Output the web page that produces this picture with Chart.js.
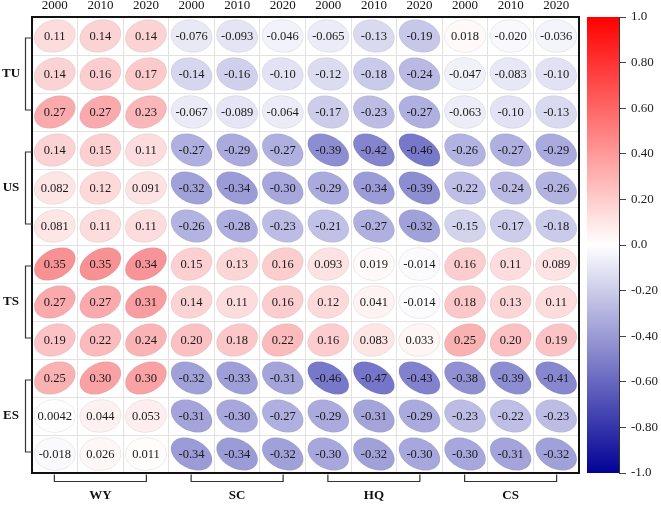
<!DOCTYPE html>
<html>
<head>
<meta charset="utf-8">
<script src="https://cdn.jsdelivr.net/npm/chart.js@4.4.1/dist/chart.umd.min.js"></script>
<style>
  html, body { margin: 0; padding: 0; background: #ffffff; }
  #wrap { position: relative; width: 661px; height: 506px; background: #ffffff; }
  #main { position: absolute; left: 0; top: 0; }
  #bar { position: absolute; left: 587px; top: 0; }
</style>
</head>
<body>
<div id="wrap">
  <canvas id="main" width="661" height="506"></canvas>
  <canvas id="bar" width="74" height="506"></canvas>
</div>
<script>
// ---- data ----
const colYears = ['2000', '2010', '2020', '2000', '2010', '2020', '2000', '2010', '2020', '2000', '2010', '2020'];
const colGroups = ['WY', 'SC', 'HQ', 'CS'];
const rowGroups = ['TU', 'US', 'TS', 'ES'];

const tuValues = [
  [0.11, 0.14, 0.14, -0.076, -0.093, -0.046, -0.065, -0.13, -0.19, 0.018, -0.020, -0.036],
  [0.14, 0.16, 0.17, -0.14, -0.16, -0.10, -0.12, -0.18, -0.24, -0.047, -0.083, -0.10],
  [0.27, 0.27, 0.23, -0.067, -0.089, -0.064, -0.17, -0.23, -0.27, -0.063, -0.10, -0.13]
];
const usValues = [
  [0.14, 0.15, 0.11, -0.27, -0.29, -0.27, -0.39, -0.42, -0.46, -0.26, -0.27, -0.29],
  [0.082, 0.12, 0.091, -0.32, -0.34, -0.30, -0.29, -0.34, -0.39, -0.22, -0.24, -0.26],
  [0.081, 0.11, 0.11, -0.26, -0.28, -0.23, -0.21, -0.27, -0.32, -0.15, -0.17, -0.18]
];
const tsValues = [
  [0.35, 0.35, 0.34, 0.15, 0.13, 0.16, 0.093, 0.019, -0.014, 0.16, 0.11, 0.089],
  [0.27, 0.27, 0.31, 0.14, 0.11, 0.16, 0.12, 0.041, -0.014, 0.18, 0.13, 0.11],
  [0.19, 0.22, 0.24, 0.20, 0.18, 0.22, 0.16, 0.083, 0.033, 0.25, 0.20, 0.19]
];
const esValues = [
  [0.25, 0.30, 0.30, -0.32, -0.33, -0.31, -0.46, -0.47, -0.43, -0.38, -0.39, -0.41],
  [0.0042, 0.044, 0.053, -0.31, -0.30, -0.27, -0.29, -0.31, -0.29, -0.23, -0.22, -0.23],
  [-0.018, 0.026, 0.011, -0.34, -0.34, -0.32, -0.30, -0.32, -0.30, -0.30, -0.31, -0.32]
];
const colorbarTicks = [1.0, 0.8, 0.6, 0.4, 0.2, 0.0, -0.2, -0.4, -0.6, -0.8, -1.0];

// ---- build ----
const allRows = [...tuValues, ...usValues, ...tsValues, ...esValues];
const points = [];
allRows.forEach((row, ri) => row.forEach((v, ci) => points.push({ x: ci, y: ri, v: v })));

const SERIF = '"Liberation Serif", "Times New Roman", serif';

function colorFor(r) {
  if (r >= 0) {
    const t = Math.min(1, r * 1.25);
    return `rgb(${Math.round(255 - 16 * t)},${Math.round(255 * (1 - t) + 4 * t)},${Math.round(255 * (1 - t) + 10 * t)})`;
  }
  const t = Math.min(1, -r * 1.15);
  return `rgb(${Math.round(255 * (1 - t))},${Math.round(255 * (1 - t))},${Math.round(255 - 100 * t)})`;
}

function halfTicks(scale) {
  const arr = [];
  for (let i = -0.5; i <= 11.5 + 1e-9; i += 1) arr.push({ value: i });
  scale.ticks = arr;
}
function intTicks(scale) {
  const arr = [];
  for (let i = 0; i <= 11; i++) arr.push({ value: i });
  scale.ticks = arr;
}

const ellipsePlugin = {
  id: 'ellipses',
  afterDatasetsDraw(chart) {
    const ctx = chart.ctx;
    const xs = chart.scales.x, ys = chart.scales.y;
    const cw = Math.abs(xs.getPixelForValue(1) - xs.getPixelForValue(0));
    const chh = Math.abs(ys.getPixelForValue(1) - ys.getPixelForValue(0));
    const Rx = cw * 0.45, Ry = chh * 0.43;
    const meta = chart.getDatasetMeta(0);
    ctx.save();
    meta.data.forEach((el, i) => {
      const d = chart.data.datasets[0].data[i];
      const r = d.v;
      const a = Math.acos(r) / 2;
      const cx = el.x, cy = el.y;
      ctx.beginPath();
      const n = 80;
      for (let k = 0; k <= n; k++) {
        const th = (k / n) * Math.PI * 2;
        const px = cx + Rx * Math.cos(th + a);
        const py = cy - Ry * Math.cos(th - a);
        if (k === 0) ctx.moveTo(px, py); else ctx.lineTo(px, py);
      }
      ctx.closePath();
      ctx.fillStyle = colorFor(r);
      ctx.fill();
      ctx.lineWidth = 1;
      ctx.strokeStyle = 'rgba(0,0,0,0.07)';
      ctx.stroke();
      ctx.fillStyle = '#1a1a1a';
      ctx.font = '12.5px ' + SERIF;
      ctx.textAlign = 'center';
      ctx.textBaseline = 'middle';
      ctx.fillText(r.toPrecision(2), cx, cy + 0.5);
    });
    ctx.restore();
  },
  afterDraw(chart) {
    const ctx = chart.ctx;
    const ca = chart.chartArea;
    const xs = chart.scales.x, ys = chart.scales.y;
    ctx.save();
    // frame
    ctx.strokeStyle = '#111';
    ctx.lineWidth = 2;
    ctx.strokeRect(ca.left, ca.top, ca.right - ca.left, ca.bottom - ca.top);
    // left brackets
    ctx.strokeStyle = '#333';
    ctx.lineWidth = 1.2;
    ctx.fillStyle = '#111';
    ctx.font = 'bold 13px ' + SERIF;
    ctx.textAlign = 'center';
    ctx.textBaseline = 'middle';
    rowGroups.forEach((g, gi) => {
      const yc = ys.getPixelForValue(gi * 3 + 1);
      const bx = ca.left - 6.5;
      ctx.beginPath();
      ctx.moveTo(ca.left, yc - 36);
      ctx.lineTo(bx, yc - 36);
      ctx.lineTo(bx, yc + 36);
      ctx.lineTo(ca.left, yc + 36);
      ctx.stroke();
      ctx.fillText(g, 11, yc);
    });
    // bottom brackets
    colGroups.forEach((g, gi) => {
      const xc = xs.getPixelForValue(gi * 3 + 1);
      const by = ca.bottom + 8.5;
      ctx.beginPath();
      ctx.moveTo(xc - 46, ca.bottom + 1.5);
      ctx.lineTo(xc - 46, by);
      ctx.lineTo(xc + 46, by);
      ctx.lineTo(xc + 46, ca.bottom + 1.5);
      ctx.stroke();
      ctx.fillText(g, xc, 495.5);
    });
    ctx.restore();
  }
};

new Chart(document.getElementById('main'), {
  type: 'scatter',
  data: {
    datasets: [{
      data: points,
      xAxisID: 'x',
      yAxisID: 'y',
      pointRadius: 0,
      pointHoverRadius: 0,
      showLine: false
    }]
  },
  options: {
    responsive: false,
    animation: false,
    devicePixelRatio: 1,
    layout: { padding: { top: 0, left: 0, right: 82, bottom: 33 } },
    plugins: { legend: { display: false }, tooltip: { enabled: false } },
    scales: {
      x: {
        type: 'linear', position: 'bottom', min: -0.5, max: 11.5,
        afterBuildTicks: halfTicks,
        ticks: { display: false },
        grid: { color: '#e2e2e2', lineWidth: 1, drawTicks: false },
        border: { display: false },
        afterFit(s) { s.height = 0; }
      },
      xTop: {
        type: 'linear', position: 'top', min: -0.5, max: 11.5,
        afterBuildTicks: intTicks,
        ticks: {
          autoSkip: false, maxRotation: 0, padding: 4,
          color: '#111', font: { family: SERIF, size: 13 },
          callback: (v) => colYears[Math.round(v)]
        },
        grid: { display: false, drawTicks: false },
        border: { display: false },
        afterFit(s) { s.height = 17; }
      },
      y: {
        type: 'linear', reverse: true, min: -0.5, max: 11.5,
        afterBuildTicks: halfTicks,
        ticks: { display: false },
        grid: { color: '#e2e2e2', lineWidth: 1, drawTicks: false },
        border: { display: false },
        afterFit(s) { s.width = 32; }
      }
    }
  },
  plugins: [ellipsePlugin]
});

// ---- colorbar ----
function barGradient(context) {
  const chart = context.chart;
  const ca = chart.chartArea;
  if (!ca) return '#ffffff';
  const ys = chart.scales.y;
  const g = chart.ctx.createLinearGradient(0, ys.getPixelForValue(-1), 0, ys.getPixelForValue(1));
  g.addColorStop(0, 'rgb(2,2,150)');
  g.addColorStop(0.5, 'rgb(255,255,255)');
  g.addColorStop(1, 'rgb(255,0,0)');
  return g;
}

new Chart(document.getElementById('bar'), {
  type: 'bar',
  data: {
    labels: [''],
    datasets: [{
      data: [[-1, 1]],
      backgroundColor: barGradient,
      borderWidth: 0,
      barPercentage: 1,
      categoryPercentage: 1
    }]
  },
  options: {
    responsive: false,
    animation: false,
    devicePixelRatio: 1,
    layout: { padding: { top: 17, bottom: 33, left: 0, right: 0 } },
    plugins: { legend: { display: false }, tooltip: { enabled: false } },
    scales: {
      x: { display: false },
      y: {
        position: 'right', min: -1, max: 1,
        afterBuildTicks(s) { s.ticks = colorbarTicks.map(v => ({ value: v })); },
        ticks: {
          padding: 5, color: '#222', font: { family: SERIF, size: 13 },
          callback: (v) => (Math.abs(Math.abs(v) - 1) < 1e-9 || Math.abs(v) < 1e-9) ? v.toFixed(1) : v.toFixed(2)
        },
        grid: { drawOnChartArea: false, drawTicks: true, tickLength: 7, color: '#444' },
        border: { display: true, color: '#333', width: 1 },
        afterFit(s) { s.width = 42; }
      }
    }
  }
});
</script>
</body>
</html>
